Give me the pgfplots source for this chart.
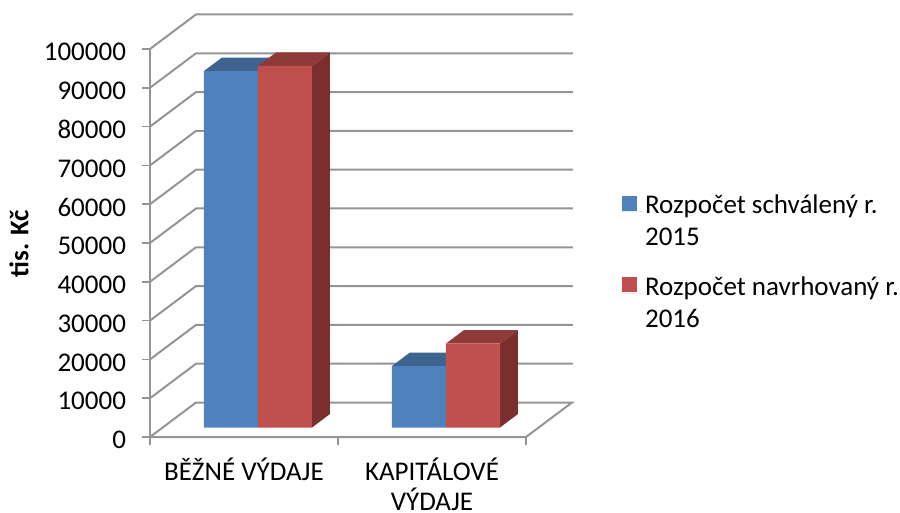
\documentclass[border=0pt]{standalone}
\usepackage{fontspec}
\setmainfont{Carlito}
\usepackage{pgfplots}
\pgfplotsset{compat=1.18}

\definecolor{gridc}{HTML}{949494}
\definecolor{blueF}{HTML}{4F81BD}
\definecolor{blueT}{HTML}{3E638F}
\definecolor{redF}{HTML}{C0504D}
\definecolor{redT}{HTML}{8E3A38}
\definecolor{redS}{HTML}{7A2F2E}

\begin{document}
\begin{tikzpicture}
\path[use as bounding box] (-150pt,-75pt) rectangle (750pt,437pt);
\begin{axis}[
    scale only axis,
    width=423pt,
    height=422.5pt,
    xmin=0, xmax=2.25,
    ymin=0, ymax=108892,
    clip=false,
    axis lines=left,
    axis line style={draw=none},
    tick align=outside,
    major tick length=8pt,
    tick style={draw=gridc, line width=1.6pt},
    ytick={0,10000,...,100000},
    xtick={0,1,2},
    xticklabels={},
    extra x ticks={0.5,1.5},
    extra x tick labels={{BĚŽNÉ VÝDAJE},{KAPITÁLOVÉ\\VÝDAJE}},
    extra x tick style={major tick length=0pt, tick label style={align=center}},
    scaled y ticks=false,
    yticklabel style={/pgf/number format/fixed, /pgf/number format/assume math mode=true, /pgf/number format/1000 sep={}, xshift=-12.5pt, yshift=-3pt},
    tick label style={font=\fontsize{27}{30}\selectfont, black},
    xticklabel style={yshift=-17pt},
    ylabel={\textbf{tis. Kč}},
    ylabel style={font=\fontsize{27}{30}\selectfont, at={(rel axis cs:-0.31,0.458)}, anchor=center},
    legend style={at={(axis cs:2.51,62886)}, anchor=north west, draw=none, fill=none, inner sep=0pt,
      font=\fontsize{27}{32}\selectfont, cells={anchor=west, align=left}, row sep=25pt},
    legend image code/.code={\fill[#1] (0pt,1pt) rectangle (15pt,16pt); \path (0pt,0pt) -- (21pt,0pt);},
]
% walls and floor
\addplot[gridc, line width=2pt, forget plot] coordinates {(0,0) (0,100000)};
\addplot[gridc, line width=2pt, forget plot] coordinates {(0,0) (0.2447,8892) (2.2447,8892) (2,0) (0,0)};
\addplot[gridc, line width=2pt, forget plot] coordinates {(0,10000) (0.2447,18892) (2.25,18892)};
\addplot[gridc, line width=2pt, forget plot] coordinates {(0,20000) (0.2447,28892) (2.25,28892)};
\addplot[gridc, line width=2pt, forget plot] coordinates {(0,30000) (0.2447,38892) (2.25,38892)};
\addplot[gridc, line width=2pt, forget plot] coordinates {(0,40000) (0.2447,48892) (2.25,48892)};
\addplot[gridc, line width=2pt, forget plot] coordinates {(0,50000) (0.2447,58892) (2.25,58892)};
\addplot[gridc, line width=2pt, forget plot] coordinates {(0,60000) (0.2447,68892) (2.25,68892)};
\addplot[gridc, line width=2pt, forget plot] coordinates {(0,70000) (0.2447,78892) (2.25,78892)};
\addplot[gridc, line width=2pt, forget plot] coordinates {(0,80000) (0.2447,88892) (2.25,88892)};
\addplot[gridc, line width=2pt, forget plot] coordinates {(0,90000) (0.2447,98892) (2.25,98892)};
\addplot[gridc, line width=2pt, forget plot] coordinates {(0,100000) (0.2447,108892) (2.25,108892)};

% tops and sides, the bars stand 9.5pt above the front edge of the floor
\addplot[fill=blueT, draw=none, yshift=9.5pt, forget plot] coordinates {(0.2872,91880) (0.5745,91880) (0.6702,95359) (0.3829,95359)} -- cycle;
\addplot[fill=blueT, draw=none, yshift=9.5pt, forget plot] coordinates {(1.2872,15850) (1.5745,15850) (1.6702,19329) (1.3829,19329)} -- cycle;
\addplot[fill=redT, draw=none, yshift=9.5pt, forget plot] coordinates {(0.5745,93170) (0.8617,93170) (0.9574,96649) (0.6702,96649)} -- cycle;
\addplot[fill=redS, draw=none, yshift=9.5pt, forget plot] coordinates {(0.8617,0) (0.9574,3479) (0.9574,96649) (0.8617,93170)} -- cycle;
\addplot[fill=redT, draw=none, yshift=9.5pt, forget plot] coordinates {(1.5745,21650) (1.8617,21650) (1.9574,25129) (1.6702,25129)} -- cycle;
\addplot[fill=redS, draw=none, yshift=9.5pt, forget plot] coordinates {(1.8617,0) (1.9574,3479) (1.9574,25129) (1.8617,21650)} -- cycle;

% front faces
\addplot[ybar, bar width=54pt, bar shift=-13pt, fill=blueF, draw=none, yshift=9.5pt] coordinates {(0.5,91880) (1.5,15850)};
\addlegendentry{Rozpočet schválený r.\\2015}
\addplot[ybar, bar width=54pt, bar shift=41pt, fill=redF, draw=none, yshift=9.5pt] coordinates {(0.5,93170) (1.5,21650)};
\addlegendentry{Rozpočet navrhovaný r.\\2016}
\end{axis}
\end{tikzpicture}
\end{document}
